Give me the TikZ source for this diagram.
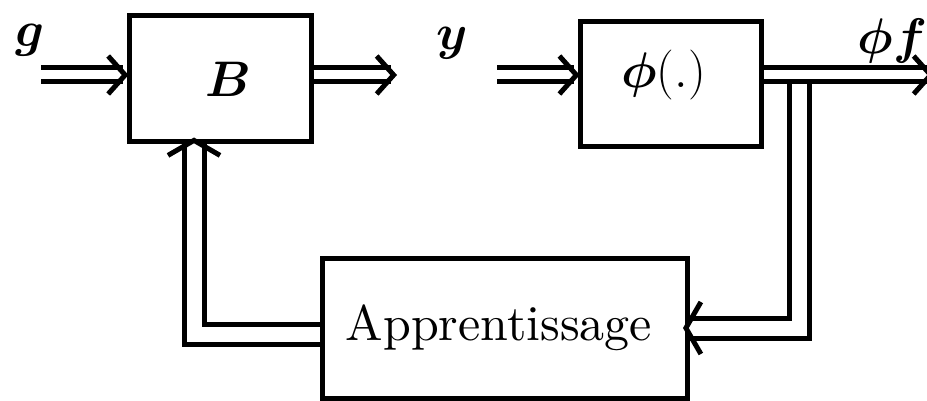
\documentclass[tikz,border=0pt]{standalone}
\usepackage{fix-cm}
\usepackage{bm}
\usetikzlibrary{arrows.meta}

\begin{document}
\begin{tikzpicture}[
    x=0.5pt, y=-0.5pt,
    line/.style={draw, double, double distance=4.5pt, line width=2.5pt, shorten >=-1pt,
        -{Straight Barb[length=8.5pt, width=19pt, line width=2.5pt]}},
    fbline/.style={line, double distance=7.5pt, shorten >=-3.5pt,
        -{Straight Barb[length=7.5pt, width=26pt, line width=2.5pt]}},
    box/.style={
        draw,
        line width=2.5pt,
        inner sep=0pt,
        align=center
    },
    lbl/.style={inner sep=0pt, font=\fontsize{25}{30}\selectfont}
]
\useasboundingbox (0,0) rectangle (927,401);
% Blocks
\node[box, minimum width=91pt, minimum height=63pt, font=\fontsize{25}{30}\selectfont] (B) at (220,79) {\hspace*{8pt}$\bm{B}$};
\node[box, minimum width=90.75pt, minimum height=62.5pt, text depth=14.75pt, font=\fontsize{25}{30}\selectfont] (phi) at (671,84) {$\bm{\phi}(.)$\hspace*{7.5pt}};
\node[box, minimum width=182.5pt, minimum height=70pt] (appr) at (505,328) {\scalebox{2.5}{Apprentissage}\hspace*{6pt}};
% Signal labels
\node[lbl, anchor=base] (g) at (30,47) {$\bm{g}$};
\node[lbl, anchor=base] (y) at (452,50) {$\bm{y}$};
\node[lbl, anchor=base west] (phif) at (857,54) {$\bm{\phi f}$};
% Free ends
\coordinate (gin) at (41,75);
\coordinate (bout) at (395,75);
\coordinate (yin) at (497,75);
\coordinate (split) at (799,75);
\coordinate (phiout) at (932,75);
% Forward path
\draw[line] (gin) -- (gin -| B.west);
\draw[line] (B.east |- gin) -- (bout);
\draw[line] (yin) -- (yin -| phi.west);
% Feedback loop
\draw[fbline] (split) |- (appr.east);
\draw[line] (phi.east |- phiout) -- (phiout);
\draw[fbline] ([yshift=-3pt]appr.west) -| ([xshift=-13pt]B.south);
\end{tikzpicture}
\end{document}
